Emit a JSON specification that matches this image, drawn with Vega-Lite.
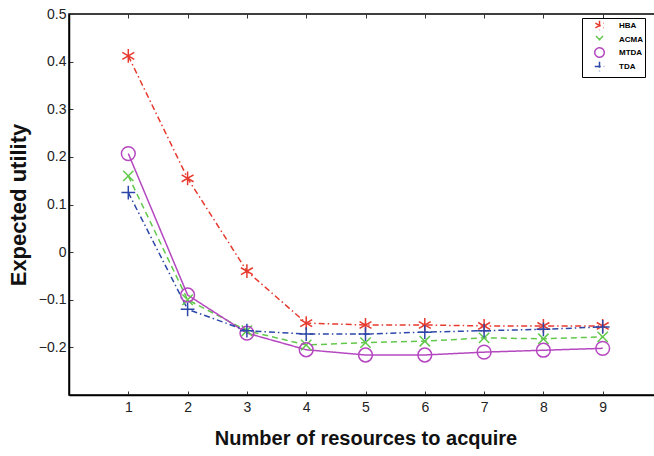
{
  "$schema": "https://vega.github.io/schema/vega-lite/v6.json",
  "width": 593,
  "height": 381,
  "autosize": "none",
  "padding": {"left": 69, "top": 14, "right": 0, "bottom": 61},
  "background": "white",
  "config": {
    "font": "Liberation Sans",
    "view": {"stroke": "black", "strokeWidth": 1.5},
    "axis": {"grid": false, "domainColor": "black", "tickColor": "#333", "labelColor": "#222", "titleColor": "#111", "labelFont": "Liberation Sans", "titleFont": "Liberation Sans"}
  },
  "data": {"values": [
    {"n": 1, "alg": "HBA", "u": 0.412},
    {"n": 2, "alg": "HBA", "u": 0.155},
    {"n": 3, "alg": "HBA", "u": -0.04},
    {"n": 4, "alg": "HBA", "u": -0.149},
    {"n": 5, "alg": "HBA", "u": -0.153},
    {"n": 6, "alg": "HBA", "u": -0.153},
    {"n": 7, "alg": "HBA", "u": -0.155},
    {"n": 8, "alg": "HBA", "u": -0.155},
    {"n": 9, "alg": "HBA", "u": -0.155},
    {"n": 1, "alg": "ACMA", "u": 0.16},
    {"n": 2, "alg": "ACMA", "u": -0.1},
    {"n": 3, "alg": "ACMA", "u": -0.165},
    {"n": 4, "alg": "ACMA", "u": -0.195},
    {"n": 5, "alg": "ACMA", "u": -0.19},
    {"n": 6, "alg": "ACMA", "u": -0.187},
    {"n": 7, "alg": "ACMA", "u": -0.18},
    {"n": 8, "alg": "ACMA", "u": -0.182},
    {"n": 9, "alg": "ACMA", "u": -0.178},
    {"n": 1, "alg": "MTDA", "u": 0.207},
    {"n": 2, "alg": "MTDA", "u": -0.09},
    {"n": 3, "alg": "MTDA", "u": -0.17},
    {"n": 4, "alg": "MTDA", "u": -0.205},
    {"n": 5, "alg": "MTDA", "u": -0.216},
    {"n": 6, "alg": "MTDA", "u": -0.216},
    {"n": 7, "alg": "MTDA", "u": -0.21},
    {"n": 8, "alg": "MTDA", "u": -0.206},
    {"n": 9, "alg": "MTDA", "u": -0.202},
    {"n": 1, "alg": "TDA", "u": 0.125},
    {"n": 2, "alg": "TDA", "u": -0.12},
    {"n": 3, "alg": "TDA", "u": -0.165},
    {"n": 4, "alg": "TDA", "u": -0.172},
    {"n": 5, "alg": "TDA", "u": -0.172},
    {"n": 6, "alg": "TDA", "u": -0.168},
    {"n": 7, "alg": "TDA", "u": -0.165},
    {"n": 8, "alg": "TDA", "u": -0.162},
    {"n": 9, "alg": "TDA", "u": -0.157}
  ]},
  "encoding": {
    "y": {"field": "u", "type": "quantitative",
      "scale": {"domain": [-0.3, 0.5], "nice": false, "zero": false},
      "axis": {"values": [-0.2,-0.1,0,0.1,0.2,0.3,0.4,0.5], "format": "~g", "title": "Expected utility", "titleFontSize": 22, "titleFontWeight": "bold", "titlePadding": 8, "labelFontSize": 14, "tickSize": -4, "labelPadding": 7, "domainWidth": 1.5}},
    "color": {"field": "alg", "type": "nominal",
      "scale": {"domain": ["HBA", "ACMA", "MTDA", "TDA"], "range": ["#e63a2e", "#62c84c", "#b548c0", "#2d47a8"]},
      "legend": {"title": null, "orient": "none", "legendX": 513, "legendY": 4, "strokeColor": "black", "fillColor": "white", "padding": 2, "labelFontSize": 8, "labelFontWeight": "bold", "labelFont": "Liberation Sans", "rowPadding": -6, "symbolSize": 90, "symbolStrokeWidth": 1.5, "labelOffset": 14, "symbolOffset": 10, "cornerRadius": 0}}
  },
  "layer": [
    {
      "mark": {"type": "line", "strokeWidth": 1.5},
      "encoding": {
        "x": {"field": "n", "type": "quantitative",
          "scale": {"domain": [0, 10], "nice": false, "zero": false},
          "axis": {"orient": "bottom", "values": [1,2,3,4,5,6,7,8,9], "title": "Number of resources to acquire", "titleFontSize": 20, "titleFontWeight": "bold", "titlePadding": 14, "labelFontSize": 14, "tickSize": -4, "labelPadding": 9, "domainWidth": 1.5}},
        "strokeDash": {"field": "alg", "type": "nominal",
          "scale": {"domain": ["HBA", "ACMA", "MTDA", "TDA"], "range": [[6,3,1.5,3], [6,4], [1,0], [6,3,1.5,3]]},
          "legend": null}
      }
    },
    {
      "mark": {"type": "point", "filled": false, "strokeWidth": 1.5, "opacity": 1, "size": 190},
      "encoding": {
        "x": {"field": "n", "type": "quantitative",
          "axis": {"orient": "top", "values": [1,2,3,4,5,6,7,8,9], "labels": false, "title": null, "tickSize": -4, "domain": false}},
        "shape": {"field": "alg", "type": "nominal",
          "scale": {"domain": ["HBA", "ACMA", "MTDA", "TDA"], "range": ["M0,-1L0,1M-0.866,-0.5L0.866,0.5M-0.866,0.5L0.866,-0.5", "M-0.75,-0.75L0.75,0.75M0.75,-0.75L-0.75,0.75", "circle", "M-1,0L1,0M0,-1L0,1"]}}
      }
    }
  ]
}
